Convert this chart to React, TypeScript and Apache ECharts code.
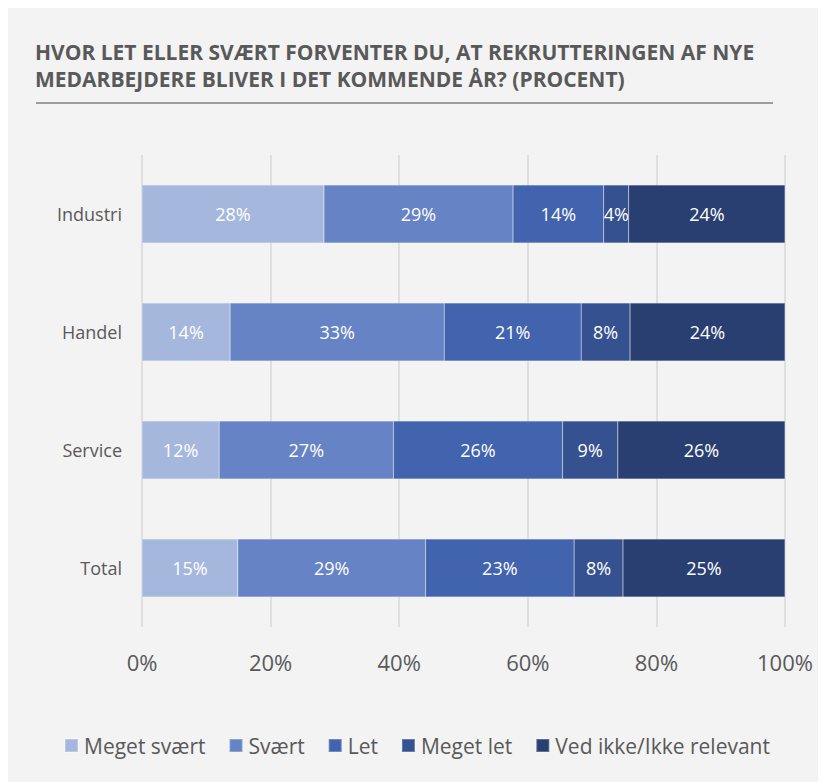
import React, { useEffect, useRef } from "react";
import * as echarts from "echarts";

const categories = ["Industri", "Handel", "Service", "Total"];
const seriesNames = ["Meget svært", "Svært", "Let", "Meget let", "Ved ikke/Ikke relevant"];
const megetSvaert = [28.3, 13.7, 12.0, 14.9];
const svaert = [29.4, 33.3, 27.1, 29.2];
const letVals = [14.1, 21.3, 26.3, 23.1];
const megetLet = [3.9, 7.6, 8.6, 7.6];
const vedIkke = [24.3, 24.1, 26.0, 25.2];
const xTicks = [0, 20, 40, 60, 80, 100];
const colors = ["#a6b7de", "#6583c5", "#4263ad", "#35518f", "#2a3f71"];
const titleText = "HVOR LET ELLER SVÆRT FORVENTER DU, AT REKRUTTERINGEN AF NYE\nMEDARBEJDERE BLIVER I DET KOMMENDE ÅR? (PROCENT)";

const FONT = "'Open Sans', sans-serif";

export default function App() {
  const ref = useRef<HTMLDivElement>(null);
  useEffect(() => {
    document.body.style.overflow = "hidden";
    const chart = echarts.init(ref.current!, null, { renderer: "svg" });
    const values = [megetSvaert, svaert, letVals, megetLet, vedIkke];
    chart.setOption({
      animation: false,
      backgroundColor: "#f3f3f3",
      textStyle: { fontFamily: FONT },
      graphic: [
        {
          type: "text",
          x: 27,
          y: 30,
          style: {
            text: titleText,
            font: `bold 21px ${FONT}`,
            fill: "#595959",
            lineHeight: 27,
            textVerticalAlign: "top",
          },
        },
        {
          type: "line",
          shape: { x1: 28, y1: 95, x2: 765, y2: 95 },
          style: { stroke: "#7f7f7f", lineWidth: 1.5 },
        },
      ],
      legend: {
        data: seriesNames,
        left: "center",
        top: 727,
        padding: 0,
        itemWidth: 13,
        itemHeight: 13,
        itemGap: 23,
        icon: "rect",
        textStyle: { fontSize: 21, color: "#595959", fontFamily: FONT, padding: [0, 0, 0, 1] },
      },
      grid: { left: 134, right: 41, top: 147, bottom: 155, containLabel: false },
      xAxis: {
        type: "value",
        min: xTicks[0],
        max: xTicks[xTicks.length - 1],
        interval: 20,
        axisLine: { show: false },
        axisTick: { show: false },
        splitLine: { show: true, lineStyle: { color: "#d9d9d9", width: 1.5 } },
        axisLabel: {
          formatter: (v: number) => `${v}%`,
          fontSize: 22,
          color: "#595959",
          margin: 24,
          fontFamily: FONT,
        },
      },
      yAxis: {
        type: "category",
        data: categories,
        inverse: true,
        axisLine: { show: false },
        axisTick: { show: false },
        axisLabel: { fontSize: 18, color: "#595959", margin: 20, fontFamily: FONT },
      },
      series: seriesNames.map((name, i) => ({
        name,
        type: "bar",
        stack: "total",
        barWidth: 58,
        data: values[i],
        itemStyle: { color: colors[i], borderColor: "rgba(255,255,255,0.25)", borderWidth: 0.5 },
        label: {
          show: true,
          position: "inside",
          formatter: (p: any) => `${Math.round(p.value)}%`,
          color: "#ffffff",
          fontSize: 18,
          fontFamily: FONT,
        },
      })),
    });
    return () => chart.dispose();
  }, []);
  return <div ref={ref} style={{ width: 818, height: 774 }} />;
}
